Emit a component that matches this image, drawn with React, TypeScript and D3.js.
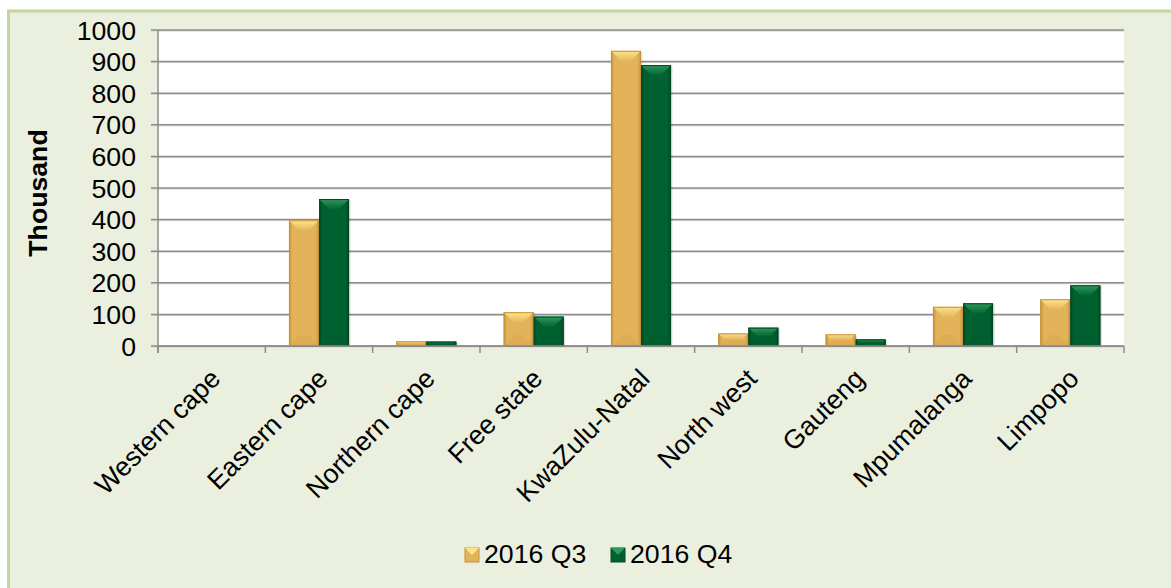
import React from "react";
import * as d3 from "d3";

const categories = ["Western cape", "Eastern cape", "Northern cape", "Free state", "KwaZulu-Natal", "North west", "Gauteng", "Mpumalanga", "Limpopo"];
const seriesNames = ["2016 Q3", "2016 Q4"];
const q3Values = [0, 398, 15, 107, 934, 40, 37, 124, 148];
const q4Values = [0, 465, 14, 93, 889, 58, 21, 135, 192];
const yTicks = [0, 100, 200, 300, 400, 500, 600, 700, 800, 900, 1000];

const W = 1171;
const H = 588;
const plot = { left: 158, right: 1124, top: 30, bottom: 346 };
const FONT = "'Liberation Sans', Arial, sans-serif";
const FS = 26.67;

const palettes = [
  { base: "#E3B35A", dark: "#C4923A", light: "#FFE48A", bottom: "#D9A64E", id: "g0" },
  { base: "#006030", dark: "#004A22", light: "#2E9A5C", bottom: "#005A2C", id: "g1" },
];

function Bar({ x, y, w, h, p }: { x: number; y: number; w: number; h: number; p: typeof palettes[0] }) {
  if (h <= 0) return null;
  const b = Math.min(11, h / 2, w / 2);
  const top = `${x},${y} ${x + w},${y} ${x + w - b},${y + b} ${x + b},${y + b}`;
  const bot = `${x},${y + h} ${x + w},${y + h} ${x + w - b},${y + h - b} ${x + b},${y + h - b}`;
  return (
    <g>
      <rect x={x + 1.5} y={y + 1} width={w} height={h} fill="rgba(0,0,0,0.12)" />
      <rect x={x} y={y} width={w} height={h} fill={`url(#${p.id})`} />
      <polygon points={bot} fill={p.bottom} opacity={0.5} />
      <polygon points={top} fill={`url(#${p.id}t)`} />
      <rect x={x + 0.5} y={y + 0.5} width={w - 1} height={h - 1} fill="none" stroke={p.dark} strokeWidth={1} />
    </g>
  );
}

export default function App() {
  const x0 = d3.scaleBand<string>().domain(categories).range([plot.left, plot.right]).padding(0);
  const bw = x0.bandwidth();
  const x1 = d3.scaleBand<string>().domain(seriesNames).range([bw * 0.22, bw * 0.78]).padding(0);
  const y = d3.scaleLinear().domain([0, 1000]).range([plot.bottom, plot.top]);
  const values = [q3Values, q4Values];
  const tickXs = categories.map((c) => x0(c)!).concat([plot.right]);

  return (
    <svg width={W} height={H} style={{ position: "absolute", left: 0, top: 0 }} fontFamily={FONT}>
      <defs>
        {palettes.map((p) => (
          <React.Fragment key={p.id}>
            <linearGradient id={p.id} x1="0" x2="1" y1="0" y2="0">
              <stop offset="0" stopColor={p.dark} />
              <stop offset="0.12" stopColor={p.base} />
              <stop offset="0.88" stopColor={p.base} />
              <stop offset="1" stopColor={p.dark} />
            </linearGradient>
            <linearGradient id={`${p.id}t`} x1="0" x2="0" y1="0" y2="1">
              <stop offset="0" stopColor={p.light} />
              <stop offset="1" stopColor={p.base} />
            </linearGradient>
          </React.Fragment>
        ))}
      </defs>
      <rect x={8.5} y={11} width={W} height={H} fill="#EBEFDE" stroke="#C3D69B" strokeWidth={3} />
      <rect x={plot.left} y={plot.top} width={plot.right - plot.left} height={plot.bottom - plot.top} fill="#FFFFFF" />
      {yTicks.map((t) => (
        <g key={t}>
          <line x1={plot.left - 7} x2={plot.right} y1={y(t) + 1} y2={y(t) + 1} stroke="#D0D0D0" strokeWidth={1} />
          <line x1={plot.left - 7} x2={plot.right} y1={y(t)} y2={y(t)} stroke="#8C8C8C" strokeWidth={1.5} />
          <text x={136} y={y(t)} dy="0.36em" textAnchor="end" fontSize={FS} fill="#000">{t}</text>
        </g>
      ))}
      <line x1={plot.left} x2={plot.left} y1={plot.top} y2={plot.bottom + 7} stroke="#8C8C8C" strokeWidth={1.5} />
      {tickXs.map((tx, i) => (
        <line key={i} x1={tx} x2={tx} y1={plot.bottom} y2={plot.bottom + 7} stroke="#8C8C8C" strokeWidth={1.5} />
      ))}
      {categories.map((c, i) => (
        <g key={c}>
          {values.map((vals, s) => {
            const bx = x0(c)! + x1(seriesNames[s])!;
            const by = y(vals[i]);
            return <Bar key={s} x={bx} y={by} w={x1.bandwidth()} h={plot.bottom - by} p={palettes[s]} />;
          })}
        </g>
      ))}
      <line x1={plot.left} x2={plot.right} y1={plot.bottom} y2={plot.bottom} stroke="#8C8C8C" strokeWidth={1.5} />
      {categories.map((c) => {
        const cx = x0(c)! + bw / 2 - 3;
        return (
          <text key={c} transform={`translate(${cx},${plot.bottom + 21}) rotate(-45)`} textAnchor="end" dy="0.7em" fontSize={FS} fill="#000">
            {c}
          </text>
        );
      })}
      <text transform={`translate(47,193) rotate(-90)`} textAnchor="middle" fontSize={FS} fontWeight="bold" fill="#000">Thousand</text>
      {seriesNames.map((s, i) => {
        const lx = 465 + i * 146;
        const p = palettes[i];
        return (
          <g key={s}>
            <rect x={lx} y={548} width={14} height={14} fill={p.base} stroke={p.dark} />
            <polygon points={`${lx},${548} ${lx + 14},${548} ${lx + 7},${555}`} fill={p.light} />
            <text x={lx + 19} y={563} fontSize={FS} fill="#000">{s}</text>
          </g>
        );
      })}
    </svg>
  );
}
